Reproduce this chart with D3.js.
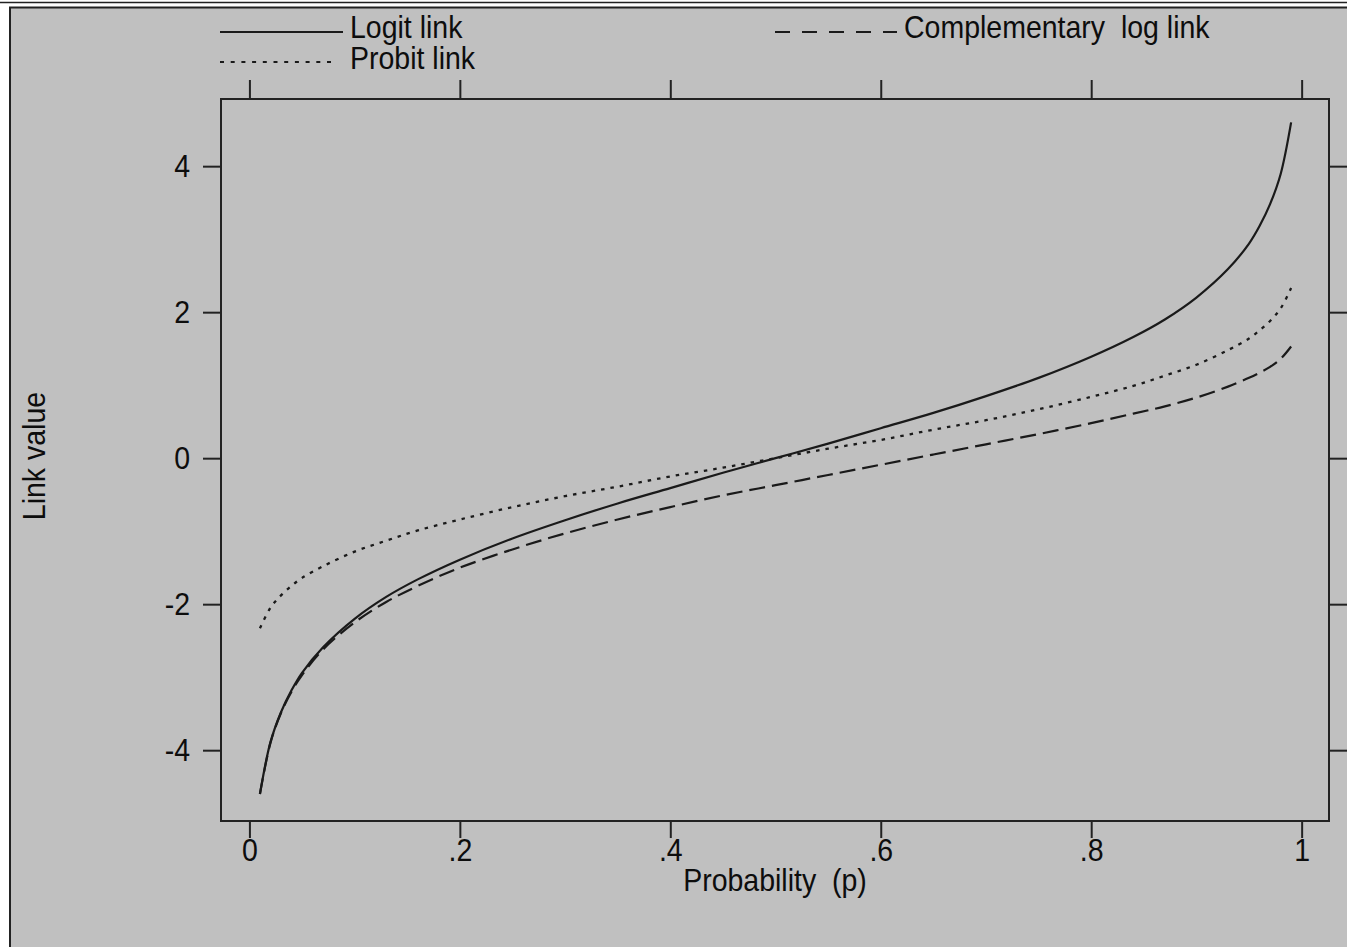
<!DOCTYPE html>
<html>
<head>
<meta charset="utf-8">
<script src="https://cdn.jsdelivr.net/npm/d3@7"></script>
<style>
  html, body { margin: 0; padding: 0; background: #ffffff; }
  svg { display: block; }
  text { font-family: "Liberation Sans", Arial, sans-serif; fill: #0d0d0d; }
  text.st { transform-box: fill-box; transform-origin: 50% 50%; transform: scaleY(1.07); }
</style>
</head>
<body>
<svg id="chart" width="1347" height="947"></svg>
<script>
// ---- data ----
const probs = [0.01,0.02,0.03,0.04,0.05,0.07,0.10,0.13,0.16,0.20,0.25,0.30,0.35,0.40,0.45,0.50,
               0.55,0.60,0.65,0.70,0.75,0.80,0.84,0.87,0.90,0.93,0.95,0.96,0.97,0.98,0.99];
const logitVals = [-4.60,-3.89,-3.48,-3.18,-2.94,-2.59,-2.20,-1.90,-1.66,-1.39,-1.10,-0.85,-0.62,-0.41,-0.20,0.00,
                   0.20,0.41,0.62,0.85,1.10,1.39,1.66,1.90,2.20,2.59,2.94,3.18,3.48,3.89,4.60];
const probitVals = [-2.33,-2.05,-1.88,-1.75,-1.64,-1.48,-1.28,-1.13,-0.99,-0.84,-0.67,-0.52,-0.39,-0.25,-0.13,0.00,
                    0.13,0.25,0.39,0.52,0.67,0.84,0.99,1.13,1.28,1.48,1.64,1.75,1.88,2.05,2.33];
const cloglogVals = [-4.60,-3.90,-3.49,-3.20,-2.97,-2.62,-2.25,-1.97,-1.75,-1.50,-1.25,-1.03,-0.84,-0.67,-0.51,-0.37,
                     -0.23,-0.09,0.05,0.19,0.33,0.48,0.61,0.71,0.83,0.98,1.10,1.17,1.25,1.36,1.53];
const xTicks = [0, 0.2, 0.4, 0.6, 0.8, 1];
const xTickLabels = ["0", ".2", ".4", ".6", ".8", "1"];
const yTicks = [-4, -2, 0, 2, 4];
const yTickLabels = ["-4", "-2", "0", "2", "4"];
const seriesNames = ["Logit link", "Probit link", "Complementary  log link"];

// ---- layout ----
const W = 1347, H = 947;
const plot = { left: 221, right: 1329, top: 99, bottom: 821 };
const grey = "#c0c0c0";
const FS = 28.5;
const svg = d3.select("#chart");

// outer background / frame
svg.append("rect").attr("x", 0).attr("y", 0).attr("width", W).attr("height", H).attr("fill", "#fff");
svg.append("line").attr("x1", 0).attr("x2", W).attr("y1", 2.5).attr("y2", 2.5)
   .attr("stroke", "#222").attr("stroke-width", 1.5);
svg.append("rect").attr("x", 10).attr("y", 7.5).attr("width", W).attr("height", H)
   .attr("fill", grey).attr("stroke", "#222").attr("stroke-width", 2);

const x = d3.scaleLinear().domain([-0.027, 1.026]).range([plot.left, plot.right]);
const y = d3.scaleLinear().domain([-4.97, 4.92]).range([plot.bottom, plot.top]);

// axes
const fmtX = d => xTickLabels[xTicks.indexOf(d)];
const fmtY = d => yTickLabels[yTicks.indexOf(d)];

const gL = svg.append("g").attr("transform", `translate(${plot.left},0)`)
  .call(d3.axisLeft(y).tickValues(yTicks).tickFormat(fmtY).tickSize(18).tickPadding(13));
const gB = svg.append("g").attr("transform", `translate(0,${plot.bottom})`)
  .call(d3.axisBottom(x).tickValues(xTicks).tickFormat(fmtX).tickSize(17).tickPadding(2));
const gT = svg.append("g").attr("transform", `translate(0,${plot.top})`)
  .call(d3.axisTop(x).tickValues(xTicks).tickFormat("").tickSize(19));
const gR = svg.append("g").attr("transform", `translate(${plot.right},0)`)
  .call(d3.axisRight(y).tickValues(yTicks).tickFormat("").tickSize(20));

[gL, gB, gT, gR].forEach(g => {
  g.select(".domain").remove();
  g.selectAll(".tick line").attr("stroke", "#222").attr("stroke-width", 2);
  g.selectAll(".tick text").attr("font-size", FS).attr("fill", "#0d0d0d").classed("st", true)
    .attr("font-family", '"Liberation Sans", Arial, sans-serif');
});

// plot frame
svg.append("rect").attr("x", plot.left).attr("y", plot.top)
   .attr("width", plot.right - plot.left).attr("height", plot.bottom - plot.top)
   .attr("fill", "none").attr("stroke", "#222").attr("stroke-width", 2);

// curves
const line = d3.line().x(d => x(d[0])).y(d => y(d[1])).curve(d3.curveCatmullRom.alpha(0.5));
const series = [
  { vals: logitVals,   dash: null,    width: 2.2 },
  { vals: probitVals,  dash: "3.5,6", width: 2.3 },
  { vals: cloglogVals, dash: "16,7",  width: 2.2 }
];
series.forEach(s => {
  svg.append("path")
    .datum(probs.map((p, i) => [p, s.vals[i]]))
    .attr("d", line)
    .attr("fill", "none")
    .attr("stroke", "#1a1a1a")
    .attr("stroke-width", s.width)
    .attr("stroke-dasharray", s.dash);
});

// axis titles
svg.append("text").attr("x", (plot.left + plot.right) / 2).attr("y", 890)
   .attr("text-anchor", "middle").attr("font-size", FS).attr("class", "st").style("white-space", "pre")
   .text("Probability  (p)");
svg.append("text").attr("transform", `translate(45,${(plot.top + plot.bottom) / 2 - 4}) rotate(-90) scale(1,1.07)`)
   .attr("text-anchor", "middle").attr("font-size", FS)
   .text("Link value");

// legend
const legend = [
  { name: seriesNames[0], x1: 220, x2: 343, y: 32, dash: null,    tx: 350, ty: 37 },
  { name: seriesNames[1], x1: 220, x2: 337, y: 62, dash: "4,6.7", tx: 350, ty: 68 },
  { name: seriesNames[2], x1: 775, x2: 897, y: 32, dash: "15,12", tx: 904, ty: 37 }
];
legend.forEach(l => {
  svg.append("line").attr("x1", l.x1).attr("x2", l.x2).attr("y1", l.y).attr("y2", l.y)
    .attr("stroke", "#1a1a1a").attr("stroke-width", 2).attr("stroke-dasharray", l.dash);
  svg.append("text").attr("x", l.tx).attr("y", l.ty).attr("font-size", FS).attr("class", "st")
    .style("white-space", "pre").text(l.name);
});
</script>
</body>
</html>
